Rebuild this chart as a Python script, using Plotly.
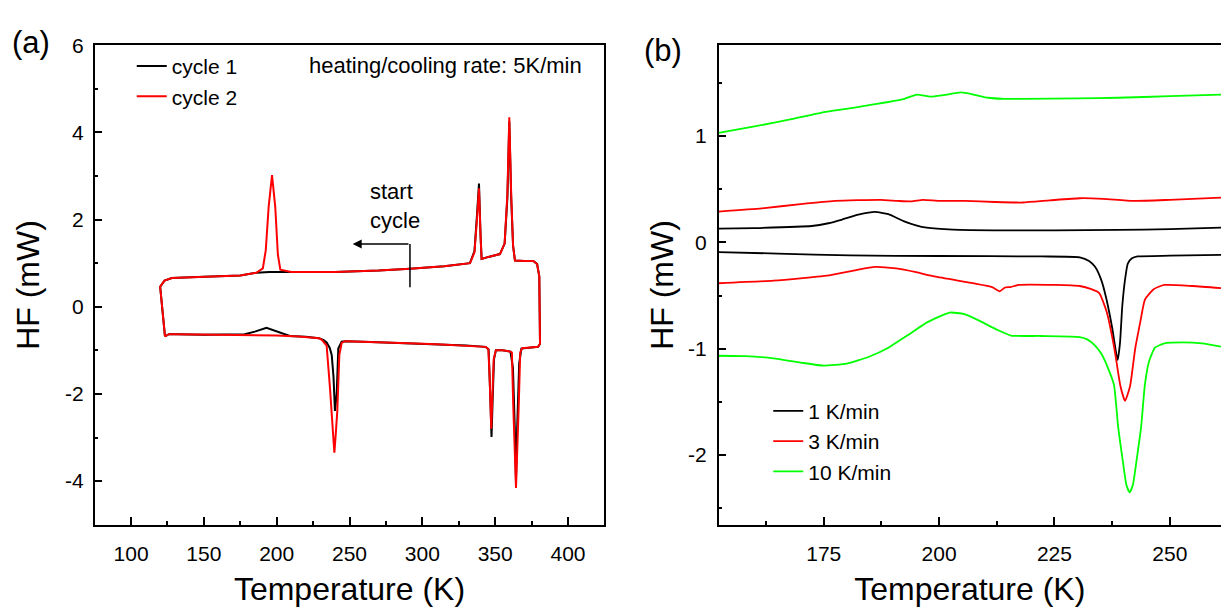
import plotly.graph_objects as go

# ---------------- (a) DSC cycles, 5 K/min ----------------
# heating branch (lower), T increasing
c1_heat_T = [123.3, 126, 131, 150, 178, 185, 193, 200, 209, 220, 229, 232, 234.3, 236.5, 237.8, 239.0,
             240.0, 241.2, 242.3, 244.6, 247, 260, 285, 310, 330, 343.5, 345.5, 346.6, 347.5, 348.3,
             349.2, 350.5, 355, 360.5, 362.2, 363.5, 364.3, 365.1, 366.5, 368, 375, 379.5]
c1_heat_HF = [-0.68, -0.63, -0.63, -0.64, -0.63, -0.57, -0.48, -0.57, -0.67, -0.69, -0.72, -0.76, -0.82,
              -0.95, -1.11, -1.6, -2.39, -2.0, -0.96, -0.8, -0.79, -0.8, -0.83, -0.86, -0.89, -0.92,
              -0.98, -2.0, -2.99, -2.1, -1.2, -1.0, -1.0, -1.03, -1.4, -2.8, -4.0, -2.8, -1.3, -0.96,
              -0.93, -0.92]
c2_heat_T = [123.3, 126, 131, 150, 177, 200, 215, 229, 231, 234.3, 236.6, 238.2, 239.6, 240.6, 241.6,
             243.0, 244.6, 247, 260, 285, 310, 330, 343.5, 345.3, 346.2, 347.3, 348.2, 349.0, 350.5,
             355, 360.5, 361.5, 362.4, 364.3, 366.2, 367.2, 368.5, 375, 379.5]
c2_heat_HF = [-0.68, -0.63, -0.63, -0.64, -0.64, -0.66, -0.68, -0.72, -0.76, -0.89, -1.87, -2.7, -3.35,
              -2.9, -2.4, -1.11, -0.83, -0.79, -0.8, -0.83, -0.86, -0.89, -0.92, -0.97, -1.6, -2.8,
              -2.0, -1.2, -1.0, -1.0, -1.03, -1.05, -2.24, -4.16, -2.24, -1.05, -0.95, -0.93, -0.92]
# cooling branch (upper), T increasing
c1_cool_T = [120.0, 123, 128, 150, 175, 186, 195, 205, 240, 270, 291.5, 315, 332.7, 335.8, 337.5, 338.9,
             340.0, 340.7, 346, 353.3, 356.5, 358.4, 359.7, 361.0, 362.3, 363.6, 370, 376.2, 378.8,
             380.3, 380.8]
c1_cool_HF = [0.46, 0.60, 0.66, 0.69, 0.72, 0.78, 0.80, 0.80, 0.80, 0.83, 0.87, 0.93, 1.0, 1.28, 2.1,
              2.83, 1.6, 1.1, 1.15, 1.21, 1.45, 2.5, 4.25, 2.5, 1.4, 1.06, 1.05, 1.05, 0.98, 0.7, -0.85]
c2_cool_T = [120.0, 123, 128, 150, 175, 186, 190.5, 192.5, 194.5, 196.8, 199, 200.8, 202.5, 210, 240,
             270, 291.5, 315, 332.7, 335.8, 337.5, 338.9, 340.0, 340.7, 346, 353.3, 356.5, 358.4, 359.7,
             361.0, 362.3, 363.6, 370, 376.2, 378.8, 380.3, 380.8]
c2_cool_HF = [0.46, 0.60, 0.66, 0.69, 0.72, 0.78, 0.88, 1.3, 2.3, 3.02, 2.3, 1.2, 0.85, 0.80, 0.80,
              0.83, 0.87, 0.93, 1.0, 1.25, 2.0, 2.72, 1.6, 1.1, 1.15, 1.21, 1.45, 2.6, 4.35, 2.6, 1.4,
              1.06, 1.05, 1.05, 0.98, 0.7, -0.85]

# ---------------- (b) different rates ----------------
r1_up_T = [152.2, 160, 172.4, 176, 179.0, 182.5, 186.1, 189, 192.3, 195, 197.3, 203, 213.9, 225, 238.8, 250, 261.1]
r1_up_HF = [0.129, 0.135, 0.154, 0.18, 0.215, 0.26, 0.286, 0.265, 0.20, 0.16, 0.138, 0.12, 0.113, 0.113,
            0.117, 0.125, 0.138]
r1_dn_T = [152.2, 165, 180.7, 200, 222.2, 230.5, 232.5, 233.8, 235.2, 236.3, 237.5, 238.7, 239.2, 239.7,
           240.3, 240.9, 241.8, 243, 250, 261.1]
r1_dn_HF = [-0.092, -0.105, -0.123, -0.128, -0.132, -0.14, -0.175, -0.23, -0.36, -0.54, -0.8, -1.106,
            -0.95, -0.6, -0.35, -0.2, -0.15, -0.132, -0.125, -0.117]

r3_up_T = [152.2, 161.6, 170, 177.4, 187.3, 191, 194, 196.5, 200, 205.6, 212, 218.1, 224, 230.5, 235.5,
           242.1, 250, 261.1]
r3_up_HF = [0.29, 0.32, 0.36, 0.39, 0.40, 0.39, 0.385, 0.40, 0.39, 0.39, 0.38, 0.375, 0.395, 0.415, 0.41,
            0.39, 0.40, 0.42]
r3_dn_T = [152.2, 164.1, 176.5, 182, 186.1, 190.7, 195, 199.0, 207.3, 211.5, 213.1, 214.3, 215.5, 217.2,
           225, 230.5, 233, 234.7, 236.3, 238.0, 239.3, 240.3, 241.4, 242.5, 243.6, 244.6, 246.5, 248.8,
           255, 261.1]
r3_dn_HF = [-0.384, -0.36, -0.307, -0.26, -0.23, -0.245, -0.28, -0.32, -0.384, -0.42, -0.46, -0.424,
            -0.42, -0.40, -0.40, -0.41, -0.44, -0.476, -0.65, -1.0, -1.35, -1.49, -1.35, -1.0, -0.75,
            -0.54, -0.44, -0.40, -0.41, -0.43]

r10_up_T = [152.2, 160, 168, 175.7, 182, 189.0, 192.5, 195.2, 198.1, 201, 204.8, 207.5, 210.6, 214,
            218.1, 230, 238.8, 250, 261.1]
r10_up_HF = [1.03, 1.09, 1.16, 1.23, 1.27, 1.32, 1.35, 1.39, 1.37, 1.385, 1.41, 1.39, 1.36, 1.35, 1.35,
             1.355, 1.36, 1.375, 1.39]
r10_dn_T = [152.2, 158, 164.1, 170, 174.9, 180, 184.8, 189, 193.1, 197.5, 202.3, 205.5, 208.9, 212.5,
            215.6, 222, 230.5, 232, 233.8, 235.2, 236.5, 237.9, 238.8, 239.8, 240.6, 241.3, 242.0, 242.8,
            243.8, 244.6, 245.5, 246.8, 248.8, 252.9, 257, 261.1]
r10_dn_HF = [-1.066, -1.07, -1.09, -1.13, -1.158, -1.14, -1.075, -0.99, -0.875, -0.75, -0.66, -0.675,
             -0.74, -0.82, -0.876, -0.88, -0.89, -0.91, -0.97, -1.05, -1.17, -1.34, -1.73, -2.05, -2.28,
             -2.35, -2.28, -2.05, -1.73, -1.34, -1.12, -0.99, -0.95, -0.94, -0.95, -0.98]

# ticks
a_xticks = [100, 150, 200, 250, 300, 350, 400]
a_yticks = [-4, -2, 0, 2, 4, 6]
a_yticktext = ["-4", "-2", "0", "2", "4", "6"]
b_xticks = [175, 200, 225, 250]
b_yticks = [-2, -1, 0, 1]
b_yticktext = ["-2", "-1", "0", "1"]

FONT = "Liberation Sans, Arial, sans-serif"
TITLE_SIZE = 32
TICK_SIZE = 21
TEXT_SIZE = 22
LEGEND_SIZE = 21


def loop(hT, hH, cT, cH):
    return hT + cT[::-1] + [hT[0]], hH + cH[::-1] + [hH[0]]


def two(uT, uH, dT, dH):
    return uT + [None] + dT, uH + [None] + dH


fig = go.Figure()
x, y = loop(c1_heat_T, c1_heat_HF, c1_cool_T, c1_cool_HF)
fig.add_trace(go.Scatter(x=x, y=y, mode="lines", name="cycle 1", line=dict(color="#000000", width=2),
                         xaxis="x", yaxis="y", legend="legend"))
x, y = loop(c2_heat_T, c2_heat_HF, c2_cool_T, c2_cool_HF)
fig.add_trace(go.Scatter(x=x, y=y, mode="lines", name="cycle 2", line=dict(color="#FF0000", width=2),
                         xaxis="x", yaxis="y", legend="legend"))

for name, col, (uT, uH, dT, dH) in [
    ("1 K/min", "#000000", (r1_up_T, r1_up_HF, r1_dn_T, r1_dn_HF)),
    ("3 K/min", "#FF0000", (r3_up_T, r3_up_HF, r3_dn_T, r3_dn_HF)),
    ("10 K/min", "#00FF00", (r10_up_T, r10_up_HF, r10_dn_T, r10_dn_HF)),
]:
    x, y = two(uT, uH, dT, dH)
    fig.add_trace(go.Scatter(x=x, y=y, mode="lines", name=name,
                             line=dict(color=col, width=1.8, shape="spline", smoothing=0.5),
                             connectgaps=False, xaxis="x2", yaxis="y2", legend="legend2"))

ax_common = dict(showline=True, linecolor="black", linewidth=1.5, ticks="inside", ticklen=8, tickwidth=1.5,
                 tickcolor="black", showgrid=False, zeroline=False,
                 tickfont=dict(family=FONT, size=TICK_SIZE, color="black"))
minor_common = dict(tickmode="linear", tick0=0, ticks="inside", ticklen=4, tickwidth=1.5, tickcolor="black")

fig.update_layout(
    width=1221, height=607, margin=dict(l=0, r=0, t=0, b=0),
    paper_bgcolor="white", plot_bgcolor="white",
    font=dict(family=FONT, color="black"),
    xaxis=dict(domain=[0.0775, 0.495], range=[75, 425], tickmode="array", tickvals=a_xticks, mirror=True,
               anchor="y", ticklabelstandoff=9, minor=dict(dtick=25, **minor_common),
               title=dict(text="Temperature (K)", font=dict(family=FONT, size=TITLE_SIZE), standoff=20),
               **ax_common),
    yaxis=dict(domain=[0.1384, 0.944], range=[-5, 6], tickmode="array", tickvals=a_yticks,
               ticktext=a_yticktext, mirror=True, anchor="x", ticklabelstandoff=5,
               minor=dict(dtick=1, **minor_common),
               title=dict(text="HF (mW)", font=dict(family=FONT, size=TITLE_SIZE), standoff=16),
               **ax_common),
    xaxis2=dict(domain=[0.5885, 1.0], range=[152.2, 261.1], tickmode="array", tickvals=b_xticks,
                mirror=True, anchor="y2", ticklabelstandoff=9, minor=dict(dtick=12.5, **minor_common),
                title=dict(text="Temperature (K)", font=dict(family=FONT, size=TITLE_SIZE), standoff=20),
                **ax_common),
    yaxis2=dict(domain=[0.1384, 0.944], range=[-2.654, 1.853], tickmode="array", tickvals=b_yticks,
                ticktext=b_yticktext, mirror=False, anchor="x2", ticklabelstandoff=6,
                minor=dict(dtick=0.5, **minor_common),
                title=dict(text="HF (mW)", font=dict(family=FONT, size=TITLE_SIZE), standoff=5),
                **ax_common),
    legend=dict(x=0.1079, y=0.943, xanchor="left", yanchor="top", bgcolor="rgba(0,0,0,0)",
                font=dict(family=FONT, size=LEGEND_SIZE)),
    legend2=dict(x=0.6292, y=0.3635, xanchor="left", yanchor="top", bgcolor="rgba(0,0,0,0)",
                 font=dict(family=FONT, size=LEGEND_SIZE)),
    showlegend=True,
)

# annotations
fig.add_annotation(text="(a)", xref="paper", yref="paper", x=30.8 / 1221, y=1 - 31 / 607, xanchor="center",
                   yanchor="middle", showarrow=False, font=dict(family=FONT, size=31))
fig.add_annotation(text="(b)", xref="paper", yref="paper", x=662.5 / 1221, y=1 - 39 / 607, xanchor="center",
                   yanchor="middle", showarrow=False, font=dict(family=FONT, size=31))
fig.add_annotation(text="heating/cooling rate: 5K/min", xref="x", yref="y", x=315.6, y=5.53,
                   showarrow=False, font=dict(family=FONT, size=TEXT_SIZE))
fig.add_annotation(text="start<br>cycle", xref="x", yref="y", x=262.7, y=2.32, xanchor="left",
                   align="left", showarrow=False, font=dict(family=FONT, size=TEXT_SIZE))
arrow_x0, arrow_x1, arrow_y0, arrow_y1 = 291.5, 252.2, 0.45, 1.44
fig.add_shape(type="line", xref="x", yref="y", x0=arrow_x0, x1=arrow_x0, y0=arrow_y0, y1=arrow_y1,
              line=dict(color="black", width=1.5))
fig.add_annotation(text="", xref="x", yref="y", axref="x", ayref="y", x=arrow_x1, y=arrow_y1,
                   ax=arrow_x0, ay=arrow_y1, showarrow=True, arrowhead=2, arrowsize=1.2, arrowwidth=1.5,
                   arrowcolor="black")

fig.write_html("out.html")
